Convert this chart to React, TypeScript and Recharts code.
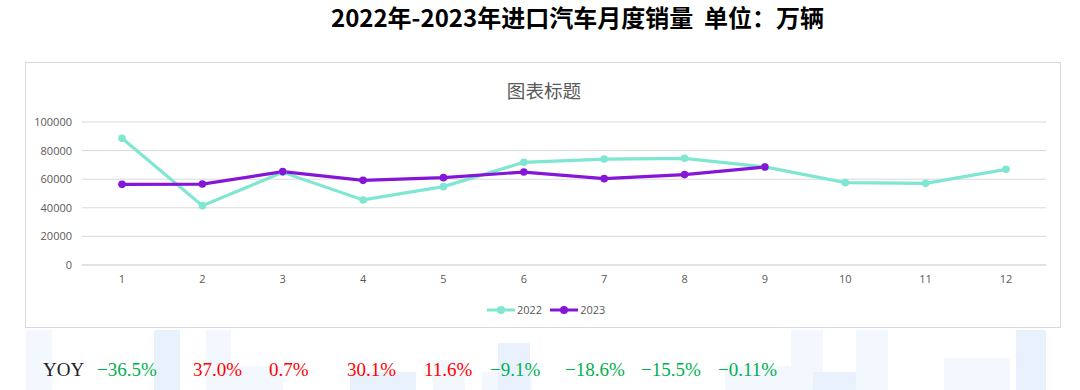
import React from "react";
import { LineChart, Line, XAxis, YAxis, CartesianGrid } from "recharts";

const months = ["1", "2", "3", "4", "5", "6", "7", "8", "9", "10", "11", "12"];
const sales2022 = [88600, 41500, 64800, 45500, 54800, 71800, 74100, 74600, 68600, 57600, 57100, 66900];
const sales2023: (number | null)[] = [56400, 56600, 65300, 59200, 61100, 65000, 60400, 63200, 68500, null, null, null];
const yTicks = [0, 20000, 40000, 60000, 80000, 100000];
const yoyLabels = ["−36.5%", "37.0%", "0.7%", "30.1%", "11.6%", "−9.1%", "−18.6%", "−15.5%", "−0.11%"];
const yoyLeft = [97, 193, 269, 347, 424, 490, 565, 641, 718];

const C2022 = "#7fe6d1";
const C2023 = "#8516d8";

const data = months.map((m, i) => ({ month: m, y2022: sales2022[i], y2023: sales2023[i] }));

const bgRects = [
  { x: 26, y: 330, w: 26, h: 60 },
  { x: 154, y: 330, w: 26, h: 60 },
  { x: 206, y: 330, w: 25, h: 60 },
  { x: 231, y: 366, w: 52, h: 24 },
  { x: 350, y: 372, w: 66, h: 18 },
  { x: 433, y: 360, w: 32, h: 30 },
  { x: 482, y: 372, w: 50, h: 18 },
  { x: 498, y: 343, w: 32, h: 47 },
  { x: 725, y: 366, w: 66, h: 24 },
  { x: 791, y: 330, w: 32, h: 60 },
  { x: 813, y: 372, w: 65, h: 18 },
  { x: 856, y: 330, w: 32, h: 60 },
  { x: 944, y: 358, w: 66, h: 32 },
  { x: 1016, y: 330, w: 30, h: 60 },
];

const LegendIcon = ({ color }: { color: string }) => (
  <svg width={28} height={10} style={{ display: "block" }}>
    <line x1={0} y1={5} x2={28} y2={5} stroke={color} strokeWidth={3} />
    <circle cx={14} cy={5} r={4} fill={color} />
  </svg>
);

export default function App() {
  return (
    <div style={{ position: "absolute", left: 0, top: 0, width: 1080, height: 390, background: "#fff", overflow: "hidden" }}>
      {bgRects.map((r, i) => (
        <div key={i} style={{ position: "absolute", left: r.x, top: r.y, width: r.w, height: r.h, background: i % 3 === 1 ? "#e9f1fd" : "#f3f7fe" }} />
      ))}
      <div
        style={{
          position: "absolute",
          left: 0,
          top: 2,
          width: 1155,
          textAlign: "center",
          fontFamily: "'Noto Sans CJK SC', sans-serif",
          fontWeight: 700,
          fontSize: 24,
          color: "#000",
          whiteSpace: "pre",
          lineHeight: "30px",
        }}
      >
        {"2022年-2023年进口汽车月度销量  单位：万辆"}
      </div>
      <div
        style={{
          position: "absolute",
          left: 25,
          top: 62,
          width: 1034,
          height: 264,
          border: "1px solid #d9d9d9",
          background: "#fff",
        }}
      >
        <div
          style={{
            position: "absolute",
            left: 0,
            top: 14,
            width: 1036,
            textAlign: "center",
            fontFamily: "'Noto Sans CJK SC', sans-serif",
            fontSize: 18.6,
            color: "#595959",
            lineHeight: "26px",
          }}
        >
          图表标题
        </div>
        <div style={{ position: "absolute", left: -1, top: -1 }}>
          <LineChart
            width={1036}
            height={266}
            data={data}
            margin={{ top: 60, right: 15, bottom: 33, left: 0 }}
          >
            <CartesianGrid vertical={false} stroke="#d9d9d9" strokeWidth={1} />
            <XAxis
              dataKey="month"
              axisLine={{ stroke: "#d9d9d9" }}
              tickLine={false}
              tickSize={0}
              tickMargin={10}
              height={30}
              padding={{ left: 40, right: 40 }}
              tick={{ fill: "#595959", fontSize: 11, fontFamily: "'Open Sans', sans-serif" }}
            />
            <YAxis
              domain={[0, 100000]}
              ticks={yTicks}
              axisLine={false}
              tickLine={false}
              tickSize={0}
              tickMargin={10}
              width={57}
              tick={{ fill: "#595959", fontSize: 11, fontFamily: "'Open Sans', sans-serif" }}
            />
            <Line
              type="linear"
              dataKey="y2022"
              stroke={C2022}
              strokeWidth={3.2}
              dot={{ r: 3.8, fill: C2022, stroke: C2022, strokeWidth: 0 }}
              isAnimationActive={false}
            />
            <Line
              type="linear"
              dataKey="y2023"
              stroke={C2023}
              strokeWidth={3.2}
              dot={{ r: 3.8, fill: C2023, stroke: C2023, strokeWidth: 0 }}
              isAnimationActive={false}
            />
          </LineChart>
        </div>
        <div
          style={{
            position: "absolute",
            left: 461,
            top: 239,
            display: "flex",
            alignItems: "center",
            fontFamily: "'Open Sans', sans-serif",
            fontSize: 11,
            color: "#595959",
          }}
        >
          <LegendIcon color={C2022} />
          <span style={{ marginLeft: 2 }}>2022</span>
          <span style={{ width: 8 }} />
          <LegendIcon color={C2023} />
          <span style={{ marginLeft: 2 }}>2023</span>
        </div>
      </div>
      <div
        style={{
          position: "absolute",
          left: 43,
          top: 358,
          fontFamily: "'Liberation Serif', serif",
          fontSize: 19,
          color: "#222",
          lineHeight: "24px",
        }}
      >
        YOY
      </div>
      {yoyLabels.map((t, i) => (
        <div
          key={i}
          style={{
            position: "absolute",
            left: yoyLeft[i],
            top: 358,
            fontFamily: "'Liberation Serif', serif",
            fontSize: 19,
            color: t.startsWith("−") ? "#00b050" : "#ff0000",
            lineHeight: "24px",
            whiteSpace: "pre",
          }}
        >
          {t}
        </div>
      ))}
    </div>
  );
}
